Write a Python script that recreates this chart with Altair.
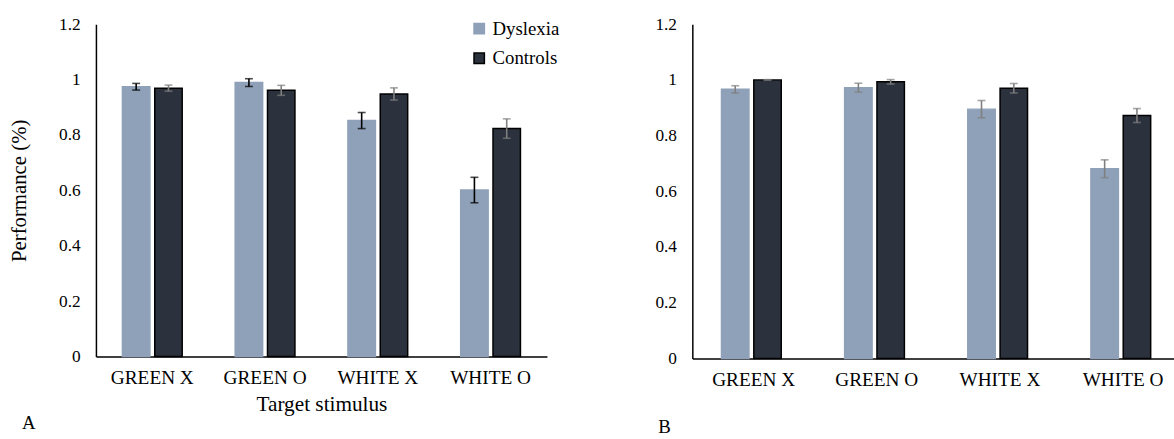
import altair as alt
import pandas as pd

categories = ["GREEN X", "GREEN O", "WHITE X", "WHITE O"]
groups = ["Dyslexia", "Controls"]

a_dyslexia = [0.974, 0.989, 0.852, 0.601]
a_dyslexia_err = [0.012, 0.014, 0.029, 0.046]
a_controls = [0.969, 0.961, 0.948, 0.823]
a_controls_err = [0.011, 0.018, 0.022, 0.035]

b_dyslexia = [0.966, 0.972, 0.895, 0.681]
b_dyslexia_err = [0.013, 0.016, 0.031, 0.032]
b_controls = [1.0, 0.993, 0.970, 0.872]
b_controls_err = [0.001, 0.008, 0.017, 0.025]

y_ticks = [0, 0.2, 0.4, 0.6, 0.8, 1, 1.2]

FONT = "Liberation Serif"
FILL_D = "#8FA1B8"
FILL_C = "#2B323D"
GRAY = "#7F7F7F"


def make_df(dys, dys_err, ctl, ctl_err):
    rows = []
    for i, c in enumerate(categories):
        rows.append({"cat": c, "group": "Dyslexia", "value": dys[i],
                     "lo": dys[i] - dys_err[i], "hi": dys[i] + dys_err[i]})
        rows.append({"cat": c, "group": "Controls", "value": ctl[i],
                     "lo": ctl[i] - ctl_err[i], "hi": ctl[i] + ctl_err[i]})
    return pd.DataFrame(rows)


def panel(df, width, height, xscale, off_pad, ytitle, xtitle, show_legend, err_color, letter, letter_xy):
    yaxis = alt.Axis(values=y_ticks, format="~g", grid=False, ticks=False, tickSize=0,
                     labelPadding=16, labelFont=FONT, labelFontSize=17.5,
                     titleFont=FONT, titleFontSize=21, labelColor="#000", titleColor="#000",
                     titlePadding=29, titleFontWeight="normal",
                     domainColor="#000", domainWidth=1.5)
    xaxis = alt.Axis(title=xtitle, labelAngle=0, ticks=False, tickSize=0, labelPadding=12,
                     labelFont=FONT, labelFontSize=19.5, titleFont=FONT, titleFontSize=21.5,
                     labelColor="#000", titleColor="#000", titlePadding=7,
                     titleFontWeight="normal", domainColor="#000", domainWidth=1.5)
    if show_legend:
        leg = alt.Legend(title=None, orient="none", legendX=378, legendY=-5,
                         symbolType="square", symbolSize=110, symbolStrokeWidth=1.5,
                         labelFont=FONT, labelFontSize=19, labelColor="#000", labelOffset=4,
                         rowPadding=10, symbolOpacity=1)
    else:
        leg = None
    x = alt.X("cat:N", scale=xscale, sort=categories, axis=xaxis)
    xo = alt.XOffset("group:N", sort=groups,
                     scale=alt.Scale(domain=groups, paddingInner=off_pad, paddingOuter=0))
    y = alt.Y("value:Q", scale=alt.Scale(domain=[0, 1.2], nice=False), axis=yaxis, title=ytitle)
    bars = alt.Chart(df).mark_bar(strokeWidth=1.5).encode(
        x=x, xOffset=xo, y=y,
        fill=alt.Fill("group:N", sort=groups,
                      scale=alt.Scale(domain=groups, range=[FILL_D, FILL_C]), legend=leg),
        stroke=alt.Stroke("group:N", sort=groups,
                          scale=alt.Scale(domain=groups, range=[FILL_D, "#000000"]), legend=leg),
    )
    rule = alt.Chart(df).mark_rule(strokeWidth=1.6).encode(
        x=alt.X("cat:N", sort=categories), xOffset=alt.XOffset("group:N", sort=groups),
        y=alt.Y("lo:Q", title=ytitle), y2="hi:Q",
        color=err_color,
    )
    cap_lo = alt.Chart(df).mark_tick(size=8, thickness=1.6).encode(
        x=alt.X("cat:N", sort=categories), xOffset=alt.XOffset("group:N", sort=groups),
        y=alt.Y("lo:Q", title=ytitle), color=err_color,
    )
    cap_hi = alt.Chart(df).mark_tick(size=8, thickness=1.6).encode(
        x=alt.X("cat:N", sort=categories), xOffset=alt.XOffset("group:N", sort=groups),
        y=alt.Y("hi:Q", title=ytitle), color=err_color,
    )
    lab = alt.Chart(pd.DataFrame({"t": [letter]})).mark_text(
        font=FONT, fontSize=19, color="#000", align="center", baseline="middle"
    ).encode(x=alt.value(letter_xy[0]), y=alt.value(letter_xy[1]), text="t:N")
    return alt.layer(bars, rule, cap_lo, cap_hi, lab).properties(width=width, height=height)


df_a = make_df(a_dyslexia, a_dyslexia_err, a_controls, a_controls_err)
df_b = make_df(b_dyslexia, b_dyslexia_err, b_controls, b_controls_err)

err_a = alt.condition(alt.datum.group == "Dyslexia", alt.value("#000000"), alt.value(GRAY))
err_b = alt.value(GRAY)

left = panel(df_a, 456, 336,
             alt.Scale(domain=categories, paddingInner=0.47, paddingOuter=0.235),
             0.15, "Performance (%)", "Target stimulus", True, err_a, "A", (-68, 403))
right = panel(df_b, 487, 338,
              alt.Scale(domain=categories, paddingInner=0.478, paddingOuter=0.1948, align=0.608),
              0.19, "", None, False, err_b, "B", (-28, 407))

chart = alt.hconcat(left, right, spacing=96).resolve_scale(
    fill="independent", stroke="independent", color="independent"
).properties(
    padding={"left": 9, "top": 13, "right": 0, "bottom": 0},
    background="white",
).configure_view(stroke=None).configure_axis(
    labelFont=FONT, titleFont=FONT, labelColor="#000", titleColor="#000",
    domainColor="#000", domainWidth=1.5,
).configure_text(font=FONT)

chart.save("out.html", embed_options={"renderer": "svg", "actions": False})
